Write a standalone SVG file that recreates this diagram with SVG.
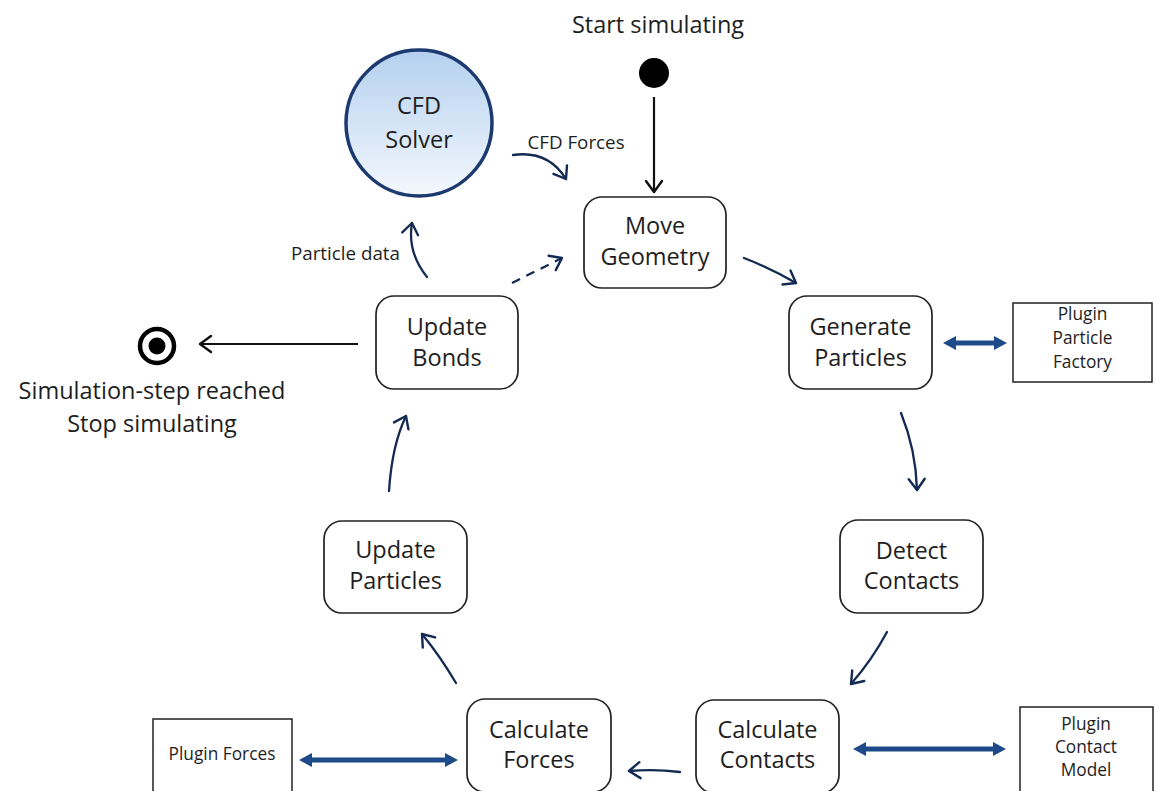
<svg xmlns="http://www.w3.org/2000/svg" width="1156" height="791" viewBox="0 0 1156 791">
  <style>
    text { font-family: "Open Sans", "Noto Sans", "Liberation Sans", sans-serif; fill: #1e1e1e; text-anchor: middle; }
    .lbl { font-size: 23.5px; }
    .small { font-size: 18.8px; }
    .plug { font-size: 17.3px; }
    .state { fill: #ffffff; stroke: #222222; stroke-width: 1.7; }
    .plugin { fill: #ffffff; stroke: #222222; stroke-width: 1.5; }
    .flow { fill: none; stroke: #142a52; stroke-width: 2.3; stroke-linecap: round; marker-end: url(#chev); }
    .black { fill: none; stroke: #111111; stroke-width: 2.2; marker-end: url(#chevK); }
    .dash { stroke-dasharray: 9 7; stroke-linecap: butt; }
    .dbl { fill: #1f4a8a; stroke: none; }
  </style>
  <defs>
    <linearGradient id="cfdFill" x1="0" y1="0" x2="0" y2="1">
      <stop offset="0" stop-color="#b4d0ef"/>
      <stop offset="1" stop-color="#f4f8fd"/>
    </linearGradient>
    <marker id="chev" markerUnits="userSpaceOnUse" markerWidth="20" markerHeight="20" viewBox="-14 -10 18 20" refX="0" refY="0" orient="auto">
      <path d="M-11,-8 L0,0 L-11,8" fill="none" stroke="#142a52" stroke-width="2.4" stroke-linecap="round" stroke-linejoin="round"/>
    </marker>
    <marker id="chevK" markerUnits="userSpaceOnUse" markerWidth="20" markerHeight="20" viewBox="-14 -10 18 20" refX="0" refY="0" orient="auto">
      <path d="M-11,-8 L0,0 L-11,8" fill="none" stroke="#111111" stroke-width="2.4" stroke-linecap="round" stroke-linejoin="round"/>
    </marker>
  </defs>

  <rect width="1156" height="791" fill="#ffffff"/>

  <!-- connectors -->
  <g id="connectors">
    <path class="black" d="M654,97 L654,192"/>
    <path class="black" d="M358,344 L200,344"/>
    <path class="flow" d="M513,155 Q548,150 566,179"/>
    <path class="flow" d="M744,258 Q770,268 796,283"/>
    <path class="flow" d="M901,413 Q916,450 917,490"/>
    <path class="flow" d="M887,632 Q872,660 851,684"/>
    <path class="flow" d="M680,772 Q655,769 629,771"/>
    <path class="flow" d="M456,683 Q440,656 422,634"/>
    <path class="flow" d="M389,491 Q392,445 406,416"/>
    <path class="flow" d="M427,277 Q407,252 412,223"/>
    <path class="flow dash" d="M512,283 L562,258"/>
    <!-- two-way plugin links -->
    <path class="dbl" d="M943,343 L956,336 L956,340.5 L994,340.5 L994,336 L1007,343 L994,350 L994,345.5 L956,345.5 L956,350 Z"/>
    <path class="dbl" d="M299,760 L312,753 L312,757.5 L445,757.5 L445,753 L458,760 L445,767 L445,762.5 L312,762.5 L312,767 Z"/>
    <path class="dbl" d="M853,749 L866,742 L866,746.5 L993,746.5 L993,742 L1006,749 L993,756 L993,751.5 L866,751.5 L866,756 Z"/>
    <text class="small" x="576" y="149">CFD Forces</text>
    <text class="small" x="400" y="260" style="text-anchor:end">Particle data</text>
  </g>

  <g id="start">
    <circle cx="654" cy="73" r="15" fill="#000000"/>
    <text class="lbl" x="658" y="33">Start simulating</text>
  </g>

  <g id="end">
    <circle cx="157" cy="346" r="17" fill="#ffffff" stroke="#000000" stroke-width="4.5"/>
    <circle cx="157" cy="346" r="8.5" fill="#000000"/>
    <text class="lbl" x="152" y="399">Simulation-step reached</text>
    <text class="lbl" x="152" y="432">Stop simulating</text>
  </g>

  <g id="cfd-solver">
    <circle cx="419" cy="123" r="73" fill="url(#cfdFill)" stroke="#1d3a70" stroke-width="3.5"/>
    <text class="lbl" x="419" y="114">CFD</text>
    <text class="lbl" x="419" y="148">Solver</text>
  </g>

  <g id="move-geometry">
    <rect class="state" x="584" y="197" width="142" height="91" rx="18"/>
    <text class="lbl" x="655" y="234">Move</text>
    <text class="lbl" x="655" y="265">Geometry</text>
  </g>

  <g id="generate-particles">
    <rect class="state" x="789" y="296" width="143" height="93" rx="18"/>
    <text class="lbl" x="860.5" y="335">Generate</text>
    <text class="lbl" x="860.5" y="366">Particles</text>
  </g>

  <g id="plugin-particle-factory">
    <rect class="plugin" x="1013" y="303" width="139" height="79"/>
    <text class="plug" x="1082.5" y="320">Plugin</text>
    <text class="plug" x="1082.5" y="344">Particle</text>
    <text class="plug" x="1082.5" y="368">Factory</text>
  </g>

  <g id="detect-contacts">
    <rect class="state" x="840" y="520" width="143" height="93" rx="18"/>
    <text class="lbl" x="911.5" y="559">Detect</text>
    <text class="lbl" x="911.5" y="589">Contacts</text>
  </g>

  <g id="calculate-contacts">
    <rect class="state" x="696" y="700" width="143" height="93" rx="18"/>
    <text class="lbl" x="767.5" y="738">Calculate</text>
    <text class="lbl" x="767.5" y="768">Contacts</text>
  </g>

  <g id="plugin-contact-model">
    <rect class="plugin" x="1020" y="707" width="133" height="92"/>
    <text class="plug" x="1086" y="730">Plugin</text>
    <text class="plug" x="1086" y="753">Contact</text>
    <text class="plug" x="1086" y="776">Model</text>
  </g>

  <g id="calculate-forces">
    <rect class="state" x="467" y="699" width="144" height="93" rx="18"/>
    <text class="lbl" x="539" y="738">Calculate</text>
    <text class="lbl" x="539" y="768">Forces</text>
  </g>

  <g id="plugin-forces">
    <rect class="plugin" x="153" y="719" width="139" height="80"/>
    <text class="plug" x="222" y="760">Plugin Forces</text>
  </g>

  <g id="update-particles">
    <rect class="state" x="324" y="521" width="143" height="92" rx="18"/>
    <text class="lbl" x="395.5" y="558">Update</text>
    <text class="lbl" x="395.5" y="589">Particles</text>
  </g>

  <g id="update-bonds">
    <rect class="state" x="376" y="296" width="142" height="93" rx="18"/>
    <text class="lbl" x="447" y="335">Update</text>
    <text class="lbl" x="447" y="366">Bonds</text>
  </g>
</svg>
